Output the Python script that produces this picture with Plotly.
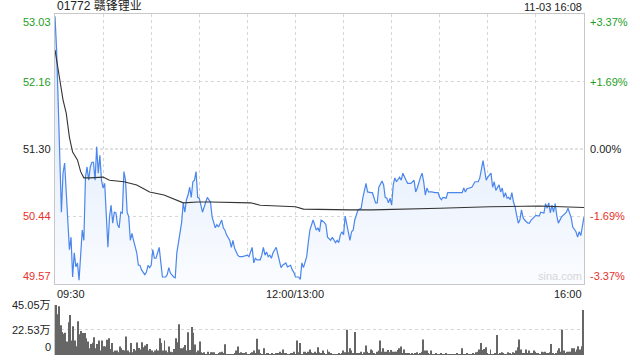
import plotly.graph_objects as go

# ---------------- data ----------------
prev_close = 51.30
y_ticks = [53.03, 52.16, 51.30, 50.44, 49.57]
pct_ticks = ["+3.37%", "+1.69%", "0.00%", "-1.69%", "-3.37%"]
vol_ticks = [45.05, 22.53, 0]
vol_tick_labels = ["45.05万", "22.53万", "0"]
time_labels = ["09:30", "12:00/13:00", "16:00"]
time_label_pos = [0, 150, 330]  # trading-minute index

# price samples: trading-minute index (0 = 09:30, 150 = 12:00/13:00, 330 = 16:00)
price_min = [0, 1, 2, 4, 5, 6, 9, 10, 11, 12, 13, 14, 15, 17, 18, 19, 20, 21, 22, 23, 24, 25, 26, 27, 28, 29, 30, 31,
             33, 34, 35, 36, 37, 38, 39, 40, 41, 42, 43, 44, 45, 46, 47, 48, 49, 51, 52, 53, 54, 56, 57, 58, 59, 60,
             61, 62, 63, 65, 66, 67, 69, 70, 71, 72, 74, 75, 76, 77, 79, 80, 81, 82, 83, 84, 85, 86, 87, 88, 89, 90,
             92, 95, 97, 98, 100, 101, 102, 104, 105, 106, 107, 109, 110, 111, 112, 114, 115, 117, 120, 121, 123, 124,
             125, 126, 128, 129, 130, 131, 132, 133, 134, 135, 136, 138, 139, 141, 142, 144, 145, 147, 148, 149, 150,
             152, 153, 154, 155, 157, 158, 159, 161, 162, 163, 164, 165, 166, 168, 169, 170, 172, 173, 175, 176, 177,
             178, 179, 180, 181, 183, 184, 185, 186, 187, 188, 189, 191, 192, 194, 195, 197, 198, 200, 201, 202, 204,
             205, 206, 207, 208, 209, 210, 211, 212, 213, 215, 216, 217, 219, 220, 222, 224, 225, 226, 228, 229, 230,
             231, 232, 233, 235, 237, 239, 240, 241, 242, 244, 245, 247, 249, 251, 253, 254, 255, 256, 257, 259, 260,
             262, 264, 265, 266, 267, 268, 269, 270, 271, 272, 273, 274, 275, 277, 278, 279, 280, 281, 282, 283, 284,
             285, 286, 287, 288, 289, 290, 291, 292, 293, 295, 296, 297, 299, 300, 302, 303, 305, 306, 307, 308, 309,
             310, 311, 312, 313, 314, 316, 317, 319, 320, 321, 322, 323, 324, 325, 326, 327, 328, 330]
price_val = [53.00, 52.57, 51.89, 50.49, 50.99, 51.12, 50.01, 50.17, 49.66, 49.97, 49.79, 49.84, 49.62, 50.26, 50.13,
             50.94, 51.07, 50.90, 51.07, 51.13, 51.13, 50.90, 51.33, 50.99, 51.22, 50.90, 50.80, 50.86,
             50.04, 50.43, 50.58, 50.35, 50.49, 50.48, 50.33, 50.29, 50.49, 50.48, 51.01, 50.90, 50.49, 50.43, 50.13,
             50.22, 50.13, 49.97, 49.81, 49.81, 49.75, 49.69, 49.72, 49.81, 49.78, 49.81,
             50.01, 49.90, 49.90, 50.04, 49.85, 49.66, 49.66, 49.69, 49.78, 49.71, 49.66, 49.65, 49.97, 50.11, 50.36,
             50.61, 50.49, 50.65, 50.71, 50.81, 50.68, 50.88, 50.90, 51.01, 50.68, 50.67,
             50.49, 50.68, 50.62, 50.43, 50.29, 50.33, 50.30, 50.39, 50.29, 50.26, 50.20, 50.13, 50.04, 50.13, 50.03,
             49.94, 49.92, 49.92, 49.94, 49.92, 50.04, 49.84,
             49.90, 49.88, 49.88, 49.94, 50.04, 49.94, 49.98, 49.92, 49.94, 49.90, 49.97, 50.04, 49.94, 49.78, 49.81,
             49.84, 49.79, 49.81, 49.75, 49.72, 49.66,
             49.66, 49.63, 49.84, 49.78, 49.92, 50.10, 50.26, 50.39, 50.33, 50.26, 50.29, 50.24, 50.39, 50.36, 50.33,
             50.17, 50.13, 50.17, 50.10, 50.13, 50.10,
             50.20, 50.24, 50.20, 50.44, 50.26, 50.13, 50.24, 50.26, 50.39, 50.45, 50.52, 50.54, 50.67, 50.86, 50.75,
             50.74, 50.74, 50.61, 50.61, 50.81, 50.89,
             50.84, 50.68, 50.67, 50.61, 50.67, 50.58, 50.84, 50.93, 50.88, 50.94, 50.90, 50.99, 50.90, 50.86, 50.86,
             50.90, 50.75, 50.80, 50.94, 50.99, 50.88,
             50.71, 50.80, 50.75, 50.75, 50.74, 50.74, 50.68, 50.65, 50.68, 50.67, 50.74, 50.74, 50.74, 50.74, 50.74,
             50.74, 50.80, 50.75, 50.79, 50.80, 50.81,
             50.88, 50.88, 50.93, 51.03, 51.15, 51.03, 50.90, 50.94, 50.97, 50.99, 50.81, 50.88, 50.77, 50.84, 50.75,
             50.80, 50.68, 50.74, 50.67, 50.68, 50.65,
             50.74, 50.62, 50.56, 50.45, 50.35, 50.39, 50.52, 50.42, 50.39, 50.35, 50.35, 50.39, 50.43, 50.45, 50.44,
             50.49, 50.48, 50.60, 50.54, 50.61, 50.48,
             50.58, 50.49, 50.60, 50.45, 50.35, 50.43, 50.45, 50.49, 50.54, 50.49, 50.42, 50.30, 50.26, 50.24, 50.17,
             50.24, 50.19, 50.43]

avg_min = [0, 3, 5, 7, 9, 11, 14, 16, 18, 22, 30, 34, 43, 51, 59, 68, 76, 80, 89, 97, 122, 128, 150, 155, 184, 198,
           240, 271, 302, 330]
avg_val = [52.57, 52.18, 51.93, 51.76, 51.45, 51.26, 51.16, 51.01, 50.93, 50.93, 50.94, 50.90, 50.88, 50.84, 50.75,
           50.71, 50.65, 50.61, 50.62, 50.62, 50.61, 50.58, 50.56, 50.53, 50.52, 50.52, 50.54, 50.56, 50.57, 50.55]

# per-minute volume (万股), minutes 0..330
volume = [
    45, 36.8, 44, 26.8, 20.7, 19.2, 20, 12.2, 29.5, 36,
    13, 25.9, 13, 7.9, 30.4, 18.6, 21.6, 19.8, 19.8, 15.2,
    12.2, 6.1, 10, 11, 16.1, 6.1, 10, 13, 4, 13,
    7.9, 7.6, 13.7, 15.2, 5.5, 10.7, 3, 4, 4, 2.4,
    7.6, 6.1, 4.6, 4, 16.7, 4, 2.4, 10.7, 2.4, 5.5,
    4, 11.3, 6.4, 4.9, 11.6, 7, 8.5, 10, 4, 5.5,
    4, 2.4, 4, 5.5, 4, 15.2, 10.7, 4, 13, 4,
    2.4, 7.6, 3, 2.4, 5.5, 15.2, 11.6, 27.7, 6.1, 6.1,
    7, 9.1, 4, 20.4, 4.6, 25.3, 20, 9.4, 2.4, 4,
    12.2, 2.4, 1.5, 2.4, 0.9, 3, 0.6, 2.4, 2.4, 2.4,
    0.9, 0.9, 1.8, 2.4, 3, 1.8, 9.7, 0.9, 0.9, 0.3,
    0.6, 0.9, 1.8, 4, 7.6, 1.8, 2.4, 1.8, 1.8, 2.4, 0.9,
    0.9, 1.8, 2.4, 4, 1.8, 14.6, 4.9, 1.8, 0.9, 6.1,
    0.9, 1.5, 1.5, 0.9, 1.5, 0.9, 0.9, 1.5, 1.8, 3,
    1.5, 4.9, 1.8, 1.5, 0.9, 0.9, 1.5, 1.5, 3, 0.9,
    13, 2.4, 10.7, 0.9, 3, 3, 1.8, 3, 4.9, 2.4,
    1.5, 3, 1.8, 7, 2.4, 1.5, 4, 1.5, 0.9, 4.9, 3,
    1.8, 0.9, 0.9, 0.9, 0.9, 1.5, 0.9, 1.8, 4, 2.4,
    22.8, 2.4, 6.1, 4, 1.8, 20.7, 1.8, 1.8, 1.8, 3,
    0.9, 2.4, 8.5, 3, 1.8, 4.9, 4, 1.8, 0.9, 3,
    4, 13, 3, 6.1, 3, 3, 4.6, 2.4, 4.6, 3,
    3, 3, 4.6, 6.1, 7.6, 1.8, 4.9, 1.8, 1.8,
    1.8, 0.9, 1.8, 0.9, 1.8, 2.4, 0.9, 1.8, 3, 14,
    4, 4, 1.8, 0.9, 4, 0.9, 0.9, 1.8, 0.9, 0.9,
    1.8, 0.9, 0.9, 1.5, 0.9, 0.9, 0.9, 0.9, 0.9, 0.9,
    1.5, 0.9, 0.9, 6.1, 0.9, 0.9, 1.5, 0.9, 0.9, 0.9,
    1.8, 0.9, 2.4, 3, 4.9, 10.7, 4.6, 5.5, 7, 1.8,
    0.9, 4.9, 0.9, 0.9, 1.8, 18, 0.9, 1.8, 2.4, 1.8, 0.9,
    0.9, 2.4, 1.8, 0.9, 2.4, 1.8, 4, 7, 14, 4.9,
    1.8, 1.8, 4.9, 1.8, 4, 1.8, 1.8, 4, 3, 1.8,
    1.8, 0.9, 3, 2.4, 3, 1.8, 1.8, 2.4, 10, 1.8, 0.9,
    1.8, 4, 6.1, 3, 22.8, 4, 1.8, 3, 3, 3,
    6.1, 6.1, 3, 4.9, 7.9, 4.9, 7.9, 40.5,
]
vol_min = list(range(len(volume)))

# ---------------- styling ----------------
GREEN = "#1e9e1e"
RED = "#e8302a"
BLACK = "#222222"
GRID = "#d6d6d6"
FONT = "Arial, Liberation Sans, Noto Sans CJK SC, sans-serif"

fig = go.Figure()

fig.add_trace(go.Scatter(
    x=price_min, y=price_val, mode="lines",
    line=dict(color="#4a86ec", width=1.2),
    fill="tozeroy",
    fillgradient=dict(type="vertical", start=49.57, stop=53.03,
                      colorscale=[[0, "rgba(250,252,255,1)"], [1, "rgba(214,228,250,1)"]]),
    xaxis="x", yaxis="y", hoverinfo="skip", showlegend=False,
))
fig.add_trace(go.Scatter(
    x=avg_min, y=avg_val, mode="lines",
    line=dict(color="#333333", width=1.1),
    xaxis="x", yaxis="y", hoverinfo="skip", showlegend=False,
))
fig.add_trace(go.Bar(
    x=vol_min, y=volume, marker=dict(color="#666666", line=dict(width=0)),
    xaxis="x2", yaxis="y2", hoverinfo="skip", showlegend=False,
))

main_lo = (355 - 284) / 341
vol_hi = (355 - 305) / 341

fig.update_layout(
    width=640, height=360,
    margin=dict(l=55, r=56, t=14, b=5),
    paper_bgcolor="white", plot_bgcolor="white",
    font=dict(family=FONT, size=11, color=BLACK),
    bargap=0.4,
    xaxis=dict(domain=[0, 1], range=[0, 330], tickvals=list(range(0, 331, 30)),
               showticklabels=False, ticks="", showgrid=True, gridcolor=GRID, griddash="dot",
               showline=True, linecolor="#c8c8c8", mirror=True, zeroline=False, anchor="y"),
    yaxis=dict(domain=[main_lo, 1], range=[49.57, 53.03], tickvals=[50.44, 52.16],
               showticklabels=False, ticks="", showgrid=True, gridcolor=GRID, griddash="dot",
               showline=True, linecolor="#c8c8c8", mirror=True, zeroline=False, anchor="x"),
    xaxis2=dict(domain=[0, 1], range=[-0.5, 330.5], showticklabels=False, ticks="", showgrid=False,
                zeroline=False, showline=False, anchor="y2"),
    yaxis2=dict(domain=[0, vol_hi], range=[0, 45.05], tickvals=[22.53, 45.05], showticklabels=False,
                ticks="", showgrid=True, gridcolor=GRID, griddash="dot", zeroline=False,
                showline=True, linecolor="#c8c8c8", anchor="x2"),
)

# previous close reference line (dashed)
fig.add_shape(type="line", xref="x", yref="y", x0=0, x1=330, y0=prev_close, y1=prev_close,
              line=dict(color="#c4c4c4", width=1, dash="3px,2px"), layer="below")

anns = []
colors = [GREEN, GREEN, BLACK, RED, RED]
for i, (v, p, c) in enumerate(zip(y_ticks, pct_ticks, colors)):
    ya = "top" if i == 0 else ("bottom" if i == len(y_ticks) - 1 else "middle")
    anns.append(dict(x=0, xref="paper", y=v, yref="y", text=f"{v:.2f}", showarrow=False,
                     xanchor="right", yanchor=ya, xshift=-2, font=dict(color=c, size=11)))
    anns.append(dict(x=1, xref="paper", y=v, yref="y", text=p, showarrow=False,
                     xanchor="left", yanchor=ya, xshift=4, font=dict(color=c, size=11)))

for v, t in zip(vol_ticks, vol_tick_labels):
    ya = "bottom" if v == 0 else "middle"
    anns.append(dict(x=0, xref="paper", y=v, yref="y2", text=t, showarrow=False,
                     xanchor="right", yanchor=ya, xshift=-2, font=dict(color=BLACK, size=11)))

anchors = ["left", "center", "right"]
for pos, t, a in zip(time_label_pos, time_labels, anchors):
    anns.append(dict(x=pos, xref="x", y=49.57, yref="y", text=t, showarrow=False,
                     xanchor=a, yanchor="top", yshift=-2, font=dict(color=BLACK, size=11)))

anns.append(dict(x=0, xref="paper", y=1, yref="paper", text="01772 赣锋锂业", showarrow=False,
                 xanchor="left", yanchor="bottom", yshift=-1, font=dict(color=BLACK, size=12)))
anns.append(dict(x=1, xref="paper", y=1, yref="paper", text="11-03 16:08", showarrow=False,
                 xanchor="right", yanchor="bottom", yshift=-1, font=dict(color=BLACK, size=11)))
anns.append(dict(x=315, xref="x", y=49.57, yref="y", text="sina.com", showarrow=False,
                 xanchor="center", yanchor="bottom", yshift=0, font=dict(color="#d6d6d6", size=11)))

fig.update_layout(annotations=anns)
fig.write_html("out.html")
